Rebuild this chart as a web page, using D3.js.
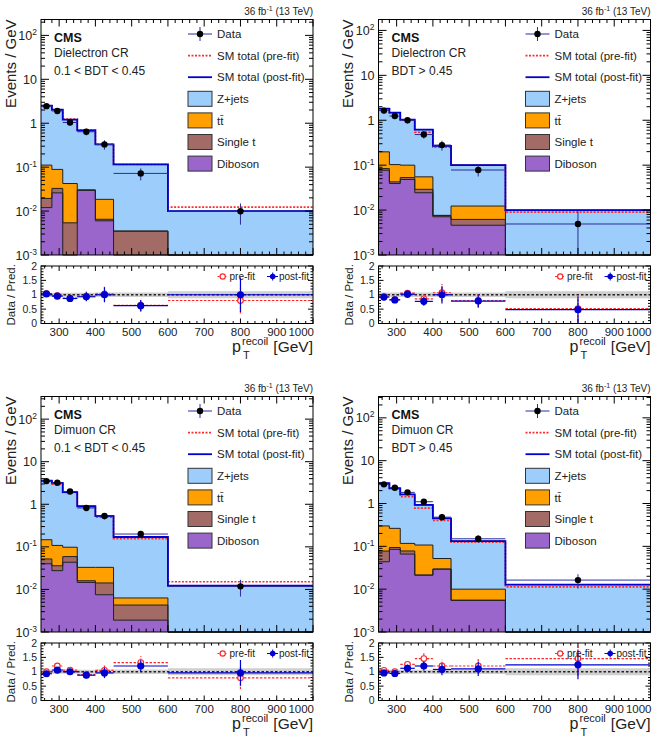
<!DOCTYPE html>
<html>
<head>
<meta charset="utf-8">
<script src="https://cdn.jsdelivr.net/npm/d3@7"></script>
<style>
  body { margin: 0; background: #fff; }
  svg { font-family: "Liberation Sans", Arial, Helvetica, sans-serif; }
</style>
</head>
<body>
<div id="app"></div>
<script>
// Binning (GeV) and tick labels
const binEdges = [250, 280, 310, 350, 400, 450, 600, 1000];
const xTickValues = [300, 400, 500, 600, 700, 800, 900, 1000];
const ratioTickValues = [0, 0.5, 1, 1.5, 2];
const logTickLabels = [["10", "-3"], ["10", "-2"], ["10", "-1"], ["1", ""], ["10", ""], ["10", "2"]];

// Dielectron CR, 0.1 < BDT < 0.45
const p1Diboson = [0.012, 0.026, 0, 0.030, 0.006, 0, 0];
const p1SingleT = [0.0074, 0.0068, 0.0054, 0, 0.0005, 0.0035, 0];
const p1TTbar = [0.092, 0.056, 0.037, 0, 0.012, 0, 0];
const p1Zjets = [2.41, 1.95, 1.17, 0.66, 0.31, 0.112, 0.010];
const p1PreFit = [2.5, 2.0, 1.25, 0.70, 0.33, 0.115, 0.0123];
const p1Data = [2.45, 1.9, 1.04, 0.64, 0.33, 0.072, 0.0099];
const p1DataErr = [0.26, 0.22, 0.15, 0.11, 0.08, 0.022, 0.005];
const p1RatioPost = [1.03, 0.95, 0.87, 0.93, 1.0, 0.62, 1.0];
const p1RatioPostErr = [0.1, 0.09, 0.1, 0.16, 0.26, 0.2, 0.6];
const p1RatioPre = [1.04, 0.97, 0.88, 0.95, 1.03, 0.63, 0.8];
const p1RatioPreErr = [0.1, 0.09, 0.1, 0.16, 0.26, 0.2, 0.45];
const p1Band = [0.07, 0.07, 0.07, 0.07, 0.08, 0.08, 0.12];

// Dielectron CR, BDT > 0.45
const p2Diboson = [0.077, 0.039, 0.048, 0.0243, 0.0071, 0.0046, 0];
const p2SingleT = [0.007, 0.0035, 0.005, 0.0047, 0.0005, 0.0016, 0];
const p2TTbar = [0.114, 0.0605, 0.047, 0.026, 0, 0.0061, 0];
const p2Zjets = [1.62, 1.38, 0.93, 0.565, 0.262, 0.088, 0.010];
const p2PreFit = [1.8, 1.45, 1.0, 0.54, 0.25, 0.1, 0.009];
const p2Data = [1.64, 1.24, 1.0, 0.48, 0.28, 0.078, 0.0049];
const p2DataErr = [0.22, 0.18, 0.15, 0.09, 0.07, 0.022, 0.0045];
const p2RatioPost = [0.92, 0.82, 1.02, 0.77, 1.0, 0.78, 0.48];
const p2RatioPostErr = [0.1, 0.1, 0.13, 0.15, 0.3, 0.23, 0.45];
const p2RatioPre = [0.93, 0.83, 1.06, 0.86, 1.07, 0.8, 0.52];
const p2RatioPreErr = [0.1, 0.1, 0.14, 0.16, 0.3, 0.23, 0.45];
const p2Band = [0.08, 0.08, 0.08, 0.08, 0.08, 0.08, 0.12];

// Dimuon CR, 0.1 < BDT < 0.45
const p3Diboson = [0.040, 0.0276, 0.0435, 0.0146, 0.0075, 0.0019, 0];
const p3SingleT = [0.012, 0.0084, 0.0155, 0.0014, 0.0067, 0.0024, 0];
const p3TTbar = [0.095, 0.072, 0.039, 0.017, 0.0188, 0.002, 0];
const p3Zjets = [3.42, 3.09, 1.83, 0.867, 0.497, 0.164, 0.0122];
const p3PreFit = [3.5, 2.95, 1.9, 0.88, 0.50, 0.155, 0.0152];
const p3Data = [3.5, 3.2, 2.0, 0.82, 0.53, 0.20, 0.0118];
const p3DataErr = [0.3, 0.28, 0.2, 0.12, 0.09, 0.03, 0.005];
const p3RatioPost = [0.93, 1.06, 1.0, 0.88, 0.96, 1.2, 0.96];
const p3RatioPostErr = [0.08, 0.08, 0.09, 0.11, 0.18, 0.2, 0.45];
const p3RatioPre = [1.0, 1.2, 1.06, 0.9, 1.05, 1.32, 0.79];
const p3RatioPreErr = [0.09, 0.09, 0.09, 0.11, 0.2, 0.22, 0.4];
const p3Band = [0.07, 0.07, 0.07, 0.07, 0.08, 0.08, 0.12];

// Dimuon CR, BDT > 0.45
const p4Diboson = [0.0436, 0.085, 0.066, 0.0213, 0.0294, 0.0055, 0];
const p4SingleT = [0.034, 0.009, 0.012, 0, 0, 0, 0];
const p4TTbar = [0.222, 0.169, 0.039, 0.086, 0.0226, 0.0045, 0];
const p4Zjets = [2.67, 2.0, 1.52, 0.82, 0.40, 0.123, 0.0128];
const p4PreFit = [2.85, 2.25, 1.45, 0.78, 0.40, 0.125, 0.0113];
const p4Data = [2.8, 2.33, 1.82, 1.1, 0.48, 0.15, 0.0163];
const p4DataErr = [0.3, 0.26, 0.2, 0.15, 0.09, 0.03, 0.006];
const p4RatioPost = [0.96, 0.94, 1.12, 1.2, 1.08, 1.1, 1.24];
const p4RatioPostErr = [0.08, 0.09, 0.13, 0.16, 0.2, 0.25, 0.5];
const p4RatioPre = [1.05, 1.0, 1.26, 1.46, 1.2, 1.2, 1.46];
const p4RatioPreErr = [0.09, 0.1, 0.14, 0.18, 0.22, 0.26, 0.6];
const p4Band = [0.07, 0.07, 0.07, 0.07, 0.08, 0.08, 0.12];

const processNames = ["Diboson", "Single t", "tt\u0304", "Z+jets"];
const processColors = ["#9a66cc", "#a36b66", "#ff9f00", "#9ccdfb"];

const panels = [
  { ox: 0, oy: 0, ymax: 230, region: "Dielectron CR", bdt: "0.1 < BDT < 0.45",
    stack: [p1Diboson, p1SingleT, p1TTbar, p1Zjets], pre: p1PreFit, data: p1Data, dataErr: p1DataErr,
    rPost: p1RatioPost, rPostErr: p1RatioPostErr, rPre: p1RatioPre, rPreErr: p1RatioPreErr, band: p1Band },
  { ox: 337.5, oy: 0, ymax: 175, region: "Dielectron CR", bdt: "BDT > 0.45",
    stack: [p2Diboson, p2SingleT, p2TTbar, p2Zjets], pre: p2PreFit, data: p2Data, dataErr: p2DataErr,
    rPost: p2RatioPost, rPostErr: p2RatioPostErr, rPre: p2RatioPre, rPreErr: p2RatioPreErr, band: p2Band },
  { ox: 0, oy: 377, ymax: 340, region: "Dimuon CR", bdt: "0.1 < BDT < 0.45",
    stack: [p3Diboson, p3SingleT, p3TTbar, p3Zjets], pre: p3PreFit, data: p3Data, dataErr: p3DataErr,
    rPost: p3RatioPost, rPostErr: p3RatioPostErr, rPre: p3RatioPre, rPreErr: p3RatioPreErr, band: p3Band },
  { ox: 337.5, oy: 377, ymax: 315, region: "Dimuon CR", bdt: "BDT > 0.45",
    stack: [p4Diboson, p4SingleT, p4TTbar, p4Zjets], pre: p4PreFit, data: p4Data, dataErr: p4DataErr,
    rPost: p4RatioPost, rPostErr: p4RatioPostErr, rPre: p4RatioPre, rPreErr: p4RatioPreErr, band: p4Band }
];

const width = 671;
const height = 737;
const postColor = "#0000d0";
const preColor = "#ff2a2a";
const dataErrColor = "#2b2ba0";

const svg = d3.select("#app").append("svg")
  .attr("width", width)
  .attr("height", height);

const nBins = binEdges.length - 1;
const bins = d3.range(nBins);
const centre = i => (binEdges[i] + binEdges[i + 1]) / 2;

// step path through bin values (last value repeated for the right edge)
function stepLine(x, yFn) {
  return d3.line()
    .x(d => x(d.e))
    .y(d => yFn(d.v))
    .curve(d3.curveStepAfter);
}
function stepData(vals) {
  return binEdges.map((e, i) => ({ e: e, v: vals[Math.min(i, nBins - 1)] }));
}

function drawPanel(p) {
  const left = p.ox + 41, right = p.ox + 313;
  const mainTop = p.oy + 19.5, mainBottom = p.oy + 255;
  const rTop = p.oy + 266, rBottom = p.oy + 323.5;
  const g = svg.append("g");

  const x = d3.scaleLinear().domain([250, 1000]).range([left, right]);
  const y = d3.scaleLog().domain([1e-3, p.ymax]).range([mainBottom, mainTop]).clamp(true);
  const r = d3.scaleLinear().domain([0, 2]).range([rBottom, rTop]).clamp(true);
  const yv = v => y(Math.max(v, 1e-3));

  // cumulative stack tops
  const tops = [];
  let base = bins.map(() => 0);
  p.stack.forEach(vals => {
    base = bins.map(i => base[i] + vals[i]);
    tops.push(base);
  });
  const total = base;

  // fills: each cumulative layer from the axis floor, drawn top layer first
  const fillArea = d3.area()
    .x(d => x(d.e))
    .y0(mainBottom)
    .y1(d => yv(d.v))
    .curve(d3.curveStepAfter);
  for (let k = tops.length - 1; k >= 0; k--) {
    g.append("path")
      .attr("d", fillArea(stepData(tops[k])))
      .attr("fill", processColors[k]);
  }
  // outlines of each stacked layer
  tops.forEach(t => {
    g.append("path")
      .attr("d", stepLine(x, yv)(stepData(t)))
      .attr("fill", "none")
      .attr("stroke", "#222")
      .attr("stroke-width", 1);
  });

  // pre-fit and post-fit totals
  g.append("path")
    .attr("d", stepLine(x, yv)(stepData(p.pre)))
    .attr("fill", "none")
    .attr("stroke", preColor)
    .attr("stroke-width", 1.6)
    .attr("stroke-dasharray", "2,1.5");
  g.append("path")
    .attr("d", stepLine(x, yv)(stepData(total)))
    .attr("fill", "none")
    .attr("stroke", postColor)
    .attr("stroke-width", 1.8);

  // data
  const dg = g.append("g");
  bins.forEach(i => {
    const cx = x(centre(i)), cy = yv(p.data[i]);
    dg.append("line").attr("x1", x(binEdges[i])).attr("x2", x(binEdges[i + 1]))
      .attr("y1", cy).attr("y2", cy).attr("stroke", dataErrColor).attr("stroke-width", 1);
    dg.append("line").attr("x1", cx).attr("x2", cx)
      .attr("y1", yv(p.data[i] - p.dataErr[i])).attr("y2", yv(p.data[i] + p.dataErr[i]))
      .attr("stroke", dataErrColor).attr("stroke-width", 1);
    dg.append("circle").attr("cx", cx).attr("cy", cy).attr("r", 3.2).attr("fill", "#000");
  });

  // main axes ticks
  const ax = g.append("g").attr("stroke", "#000").attr("stroke-width", 1);
  const minorX = d3.range(260, 1000, 20).filter(v => v % 100 !== 0);
  function xTicks(yb, yt, maj, min) {
    xTickValues.forEach(v => {
      ax.append("line").attr("x1", x(v)).attr("x2", x(v)).attr("y1", yb).attr("y2", yb - maj);
      ax.append("line").attr("x1", x(v)).attr("x2", x(v)).attr("y1", yt).attr("y2", yt + maj);
    });
    minorX.forEach(v => {
      ax.append("line").attr("x1", x(v)).attr("x2", x(v)).attr("y1", yb).attr("y2", yb - min);
      ax.append("line").attr("x1", x(v)).attr("x2", x(v)).attr("y1", yt).attr("y2", yt + min);
    });
  }
  xTicks(mainBottom, mainTop, 7, 3.5);
  xTicks(rBottom, rTop, 5, 2.5);

  const logMajor = d3.range(-3, 3).map(e => Math.pow(10, e));
  const logMinor = [];
  d3.range(-3, 3).forEach(e => d3.range(2, 10).forEach(m => {
    const v = m * Math.pow(10, e);
    if (v < p.ymax) logMinor.push(v);
  }));
  logMajor.forEach(v => {
    ax.append("line").attr("x1", left).attr("x2", left + 8).attr("y1", y(v)).attr("y2", y(v));
    ax.append("line").attr("x1", right).attr("x2", right - 8).attr("y1", y(v)).attr("y2", y(v));
  });
  logMinor.forEach(v => {
    ax.append("line").attr("x1", left).attr("x2", left + 4).attr("y1", y(v)).attr("y2", y(v));
    ax.append("line").attr("x1", right).attr("x2", right - 4).attr("y1", y(v)).attr("y2", y(v));
  });

  // y tick labels (main)
  logMajor.forEach((v, k) => {
    const t = g.append("text").attr("x", left - 4).attr("y", y(v) + 4.5)
      .attr("text-anchor", "end").attr("font-size", 12.5).attr("fill", "#222");
    t.append("tspan").text(logTickLabels[k][0]);
    if (logTickLabels[k][1]) {
      t.append("tspan").attr("dy", -5).attr("font-size", 8.5).text(logTickLabels[k][1]);
    }
  });

  // ratio panel: band, reference line, points
  const rg = g.append("g");
  rg.append("path")
    .attr("d", d3.area()
      .x(d => x(d.e))
      .y0(d => r(1 - d.v))
      .y1(d => r(1 + d.v))
      .curve(d3.curveStepAfter)(stepData(p.band)))
    .attr("fill", "#cfcfcf");
  rg.append("line").attr("x1", left).attr("x2", right).attr("y1", r(1)).attr("y2", r(1))
    .attr("stroke", "#222").attr("stroke-width", 1.5).attr("stroke-dasharray", "2.5,2");

  function ratioPoints(vals, errs, color, dashed, filled) {
    bins.forEach(i => {
      const cx = x(centre(i)), cy = r(vals[i]);
      rg.append("line").attr("x1", x(binEdges[i])).attr("x2", x(binEdges[i + 1]))
        .attr("y1", cy).attr("y2", cy).attr("stroke", color).attr("stroke-width", 1.2)
        .attr("stroke-dasharray", dashed ? "2.5,1.5" : null);
      rg.append("line").attr("x1", cx).attr("x2", cx)
        .attr("y1", r(vals[i] - errs[i])).attr("y2", r(vals[i] + errs[i]))
        .attr("stroke", color).attr("stroke-width", 1.2)
        .attr("stroke-dasharray", dashed ? "2.5,1.5" : null);
      rg.append("circle").attr("cx", cx).attr("cy", cy).attr("r", filled ? 3 : 2.8)
        .attr("fill", filled ? color : "#fff").attr("stroke", color).attr("stroke-width", 1.2);
    });
  }
  ratioPoints(p.rPre, p.rPreErr, preColor, true, false);
  ratioPoints(p.rPost, p.rPostErr, postColor, false, true);

  // ratio y ticks
  d3.range(0, 2.01, 0.1).forEach(v => {
    const major = Math.abs(v * 2 - Math.round(v * 2)) < 1e-6;
    const len = major ? 5 : 2.5;
    ax.append("line").attr("x1", left).attr("x2", left + len).attr("y1", r(v)).attr("y2", r(v));
    ax.append("line").attr("x1", right).attr("x2", right - len).attr("y1", r(v)).attr("y2", r(v));
  });
  ratioTickValues.forEach(v => {
    g.append("text").attr("x", left - 4).attr("y", r(v) + 3.5)
      .attr("text-anchor", "end").attr("font-size", 10.5).attr("fill", "#222").text(v);
  });
  xTickValues.forEach(v => {
    g.append("text").attr("x", v === 1000 ? x(v) + 1 : x(v)).attr("y", rBottom + 12.5)
      .attr("text-anchor", v === 1000 ? "end" : "middle")
      .attr("font-size", 11.5).attr("fill", "#222").text(v);
  });

  // frames
  g.append("rect").attr("x", left).attr("y", mainTop).attr("width", right - left)
    .attr("height", mainBottom - mainTop).attr("fill", "none").attr("stroke", "#000");
  g.append("rect").attr("x", left).attr("y", rTop).attr("width", right - left)
    .attr("height", rBottom - rTop).attr("fill", "none").attr("stroke", "#000");

  // axis titles
  g.append("text")
    .attr("transform", `translate(${p.ox + 15.5}, ${p.oy + 19.5}) rotate(-90)`)
    .attr("text-anchor", "end").attr("font-size", 15).attr("fill", "#222").text("Events / GeV");
  g.append("text")
    .attr("transform", `translate(${p.ox + 15}, ${(rTop + rBottom) / 2}) rotate(-90)`)
    .attr("text-anchor", "middle").attr("font-size", 11.5).attr("fill", "#222").text("Data / Pred.");
  const xt = g.append("g").attr("fill", "#222");
  xt.append("text").attr("x", right).attr("y", p.oy + 351.5).attr("text-anchor", "end")
    .attr("font-size", 15.5).text("[GeV]");
  xt.append("text").attr("x", right - 81).attr("y", p.oy + 351.5)
    .attr("font-size", 16).text("p");
  xt.append("text").attr("x", right - 71).attr("y", p.oy + 345)
    .attr("font-size", 11).text("recoil");
  xt.append("text").attr("x", right - 70).attr("y", p.oy + 359)
    .attr("font-size", 11).text("T");

  // lumi label
  const lumi = g.append("text").attr("x", right).attr("y", p.oy + 15)
    .attr("text-anchor", "end").attr("font-size", 10).attr("fill", "#222");
  lumi.append("tspan").text("36 fb");
  lumi.append("tspan").attr("dy", -4).attr("font-size", 7).text("-1");
  lumi.append("tspan").attr("dy", 4).text(" (13 TeV)");

  // CMS labels
  g.append("text").attr("x", p.ox + 54).attr("y", p.oy + 41.5)
    .attr("font-size", 12.5).attr("font-weight", "bold").attr("fill", "#111").text("CMS");
  g.append("text").attr("x", p.ox + 54).attr("y", p.oy + 57)
    .attr("font-size", 12).attr("fill", "#222").text(p.region);
  g.append("text").attr("x", p.ox + 54).attr("y", p.oy + 75)
    .attr("font-size", 12).attr("fill", "#222").text(p.bdt);

  // legend
  const lx = p.ox + 188, lw = 24, tx = p.ox + 217;
  const ly = k => p.oy + 34 + 21.6 * k;
  const lg = g.append("g");
  lg.append("line").attr("x1", lx).attr("x2", lx + lw).attr("y1", ly(0)).attr("y2", ly(0))
    .attr("stroke", dataErrColor);
  lg.append("line").attr("x1", lx + lw / 2).attr("x2", lx + lw / 2).attr("y1", ly(0) - 7).attr("y2", ly(0) + 7)
    .attr("stroke", dataErrColor);
  lg.append("circle").attr("cx", lx + lw / 2).attr("cy", ly(0)).attr("r", 3.2).attr("fill", "#000");
  lg.append("line").attr("x1", lx).attr("x2", lx + lw).attr("y1", ly(1)).attr("y2", ly(1))
    .attr("stroke", preColor).attr("stroke-width", 1.6).attr("stroke-dasharray", "2,1.5");
  lg.append("line").attr("x1", lx).attr("x2", lx + lw).attr("y1", ly(2)).attr("y2", ly(2))
    .attr("stroke", postColor).attr("stroke-width", 1.8);
  const boxOrder = [3, 2, 1, 0];
  boxOrder.forEach((k, j) => {
    lg.append("rect").attr("x", lx).attr("y", ly(3 + j) - 7.5).attr("width", lw).attr("height", 15)
      .attr("fill", processColors[k]).attr("stroke", "#333").attr("stroke-width", 1);
  });
  const legendText = ["Data", "SM total (pre-fit)", "SM total (post-fit)"].concat(boxOrder.map(k => processNames[k]));
  legendText.forEach((t, k) => {
    lg.append("text").attr("x", tx).attr("y", ly(k) + 4.2).attr("font-size", 11.5)
      .attr("fill", "#222").text(t);
  });

  // ratio legend
  const rly = p.oy + 276.5;
  lg.append("line").attr("x1", p.ox + 217.5).attr("x2", p.ox + 228).attr("y1", rly).attr("y2", rly)
    .attr("stroke", preColor).attr("stroke-dasharray", "2,1.5");
  lg.append("circle").attr("cx", p.ox + 222.7).attr("cy", rly).attr("r", 2.6)
    .attr("fill", "#fff").attr("stroke", preColor).attr("stroke-width", 1.2);
  lg.append("text").attr("x", p.ox + 229.5).attr("y", rly + 3.5).attr("font-size", 10)
    .attr("fill", "#222").text("pre-fit");
  lg.append("line").attr("x1", p.ox + 267).attr("x2", p.ox + 278).attr("y1", rly).attr("y2", rly)
    .attr("stroke", postColor);
  lg.append("line").attr("x1", p.ox + 272.7).attr("x2", p.ox + 272.7).attr("y1", rly - 4).attr("y2", rly + 4)
    .attr("stroke", postColor);
  lg.append("circle").attr("cx", p.ox + 272.7).attr("cy", rly).attr("r", 2.8).attr("fill", postColor);
  lg.append("text").attr("x", p.ox + 279).attr("y", rly + 3.5).attr("font-size", 10)
    .attr("fill", "#222").text("post-fit");
}

panels.forEach(drawPanel);
</script>
</body>
</html>
